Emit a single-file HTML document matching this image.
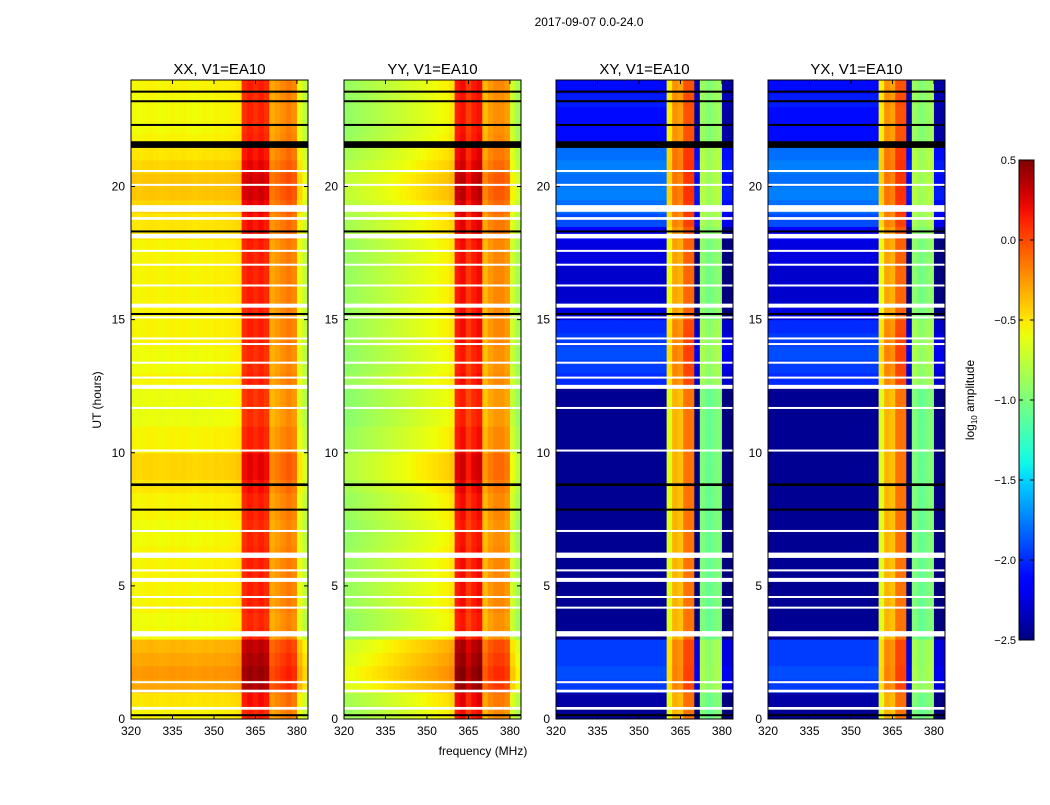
<!DOCTYPE html>
<html><head><meta charset="utf-8">
<style>
body{margin:0;background:#fff;width:1050px;height:800px;overflow:hidden}
svg text{font-family:"Liberation Sans",sans-serif}
</style></head><body>
<svg id="fig" width="1050" height="800" xmlns="http://www.w3.org/2000/svg">
<text x="589" y="26" font-size="12" text-anchor="middle">2017-09-07 0.0-24.0</text>
<text x="483" y="755" font-size="12" text-anchor="middle">frequency (MHz)</text>
<text x="101" y="400" font-size="12" text-anchor="middle" transform="rotate(-90 101 400)">UT (hours)</text>
</svg>
<script>
// ---- data ----
const panelTitles = ["XX, V1=EA10","YY, V1=EA10","XY, V1=EA10","YX, V1=EA10"];
const freqBins = [320,322,324,326,328,330,332,334,336,338,340,342,344,346,348,350,352,354,356,358,360,362,364,366,368,370,372,374,376,378,380,382];
const xxProfile = [-0.55,-0.56,-0.55,-0.54,-0.55,-0.56,-0.55,-0.54,-0.55,-0.54,-0.55,-0.56,-0.55,-0.54,-0.55,-0.53,-0.54,-0.53,-0.52,-0.5,0.1,0.15,0.1,0.15,0.1,-0.3,-0.25,-0.2,-0.15,-0.2,-0.6,-0.75];
const yyProfile = [-0.9,-0.88,-0.86,-0.84,-0.82,-0.8,-0.78,-0.76,-0.74,-0.72,-0.7,-0.68,-0.66,-0.64,-0.62,-0.6,-0.58,-0.56,-0.54,-0.5,0.15,0.2,0.05,0.15,0.2,-0.35,-0.25,-0.2,-0.2,-0.25,-0.7,-0.85];
const xyProfile = [-2.0,-2.0,-2.0,-2.0,-2.0,-2.0,-2.0,-2.0,-2.0,-2.0,-2.0,-2.0,-2.0,-2.0,-2.0,-2.0,-2.0,-2.0,-2.0,-2.0,-0.5,-0.2,-0.25,0.0,0.0,-2.3,-0.85,-0.95,-0.9,-0.85,-2.3,-2.3];
const yxProfile = [-2.0,-2.0,-2.0,-2.0,-2.0,-2.0,-2.0,-2.0,-2.0,-2.0,-2.0,-2.0,-2.0,-2.0,-2.0,-2.0,-2.0,-2.0,-2.0,-2.0,-0.5,-0.2,-0.25,0.0,0.0,-2.3,-0.85,-0.95,-0.9,-0.85,-2.3,-2.3];
const bandWeight = [1,1,1,1,1,1,1,1,1,1,1,1,1,1,1,1,1,1,1,1,0.3,0.3,0.3,0.3,0.3,1,0.3,0.3,0.3,0.3,1,1];
const timeBins = [0,0.5,1,1.5,2,2.5,3,3.5,4,4.5,5,5.5,6,6.5,7,7.5,8,8.5,9,9.5,10,10.5,11,11.5,12,12.5,13,13.5,14,14.5,15,15.5,16,16.5,17,17.5,18,18.5,19,19.5,20,20.5,21,21.5,22,22.5,23,23.5];
const coOffset = [0,0.05,0.25,0.3,0.25,0.2,-0.02,-0.03,0,0,0,0,0,-0.02,-0.03,0,0,0.05,0.1,0.1,0,0,-0.05,-0.05,-0.05,0,-0.03,-0.03,0,0,0,0,0,0,0,0,0.05,0.05,0.1,0.15,0.15,0.1,0.05,0,-0.02,-0.02,-0.02,0];
const crossOffset = [-0.45,-0.4,0.05,0.1,0.05,0.05,-0.45,-0.45,-0.45,-0.45,-0.45,-0.45,-0.45,-0.45,-0.45,-0.45,-0.45,-0.45,-0.45,-0.45,-0.45,-0.45,-0.45,-0.45,-0.45,0.0,0.05,0.1,0.05,0.0,-0.25,-0.3,-0.3,-0.3,-0.25,-0.25,-0.15,0.1,0.2,0.25,0.2,0.25,0.2,-0.1,-0.1,-0.1,-0.05,-0.1];
const whiteGaps = [[0.35,0.45],[1.0,1.1],[1.35,1.42],[3.1,3.3],[4.15,4.22],[4.55,4.62],[5.15,5.3],[5.55,5.62],[6.05,6.25],[7.05,7.1],[10.05,10.12],[11.65,11.72],[12.4,12.55],[12.8,12.86],[13.35,13.42],[14.05,14.12],[14.28,14.33],[15.05,15.12],[15.45,15.6],[16.25,16.32],[17.05,17.1],[17.55,17.62],[18.05,18.22],[18.75,18.85],[19.05,19.3],[20.05,20.1],[20.55,20.62]];
const blackGaps = [[0.12,0.18],[8.75,8.85],[7.85,7.9],[15.2,15.25],[18.3,18.35],[21.45,21.7],[22.3,22.35],[23.55,23.6],[23.2,23.24]];
const xTicks = [320,335,350,365,380];
const yTicks = [0,5,10,15,20];
const cbTicks = [-2.5,-2.0,-1.5,-1.0,-0.5,0.0,0.5];
// ---- layout ----
const NS="http://www.w3.org/2000/svg";
const svg=document.getElementById('fig');
const panelX=[131,344,556,768], pW=177, pTop=80, pBot=719;
const fMin=320,fMax=384,tMin=0,tMax=24,vMin=-2.5,vMax=0.5;
function mk(tag,attrs,parent){const e=document.createElementNS(NS,tag);for(const k in attrs)e.setAttribute(k,attrs[k]);(parent||svg).appendChild(e);return e;}
function jet(v){let t=(v-vMin)/(vMax-vMin);t=Math.max(0,Math.min(1,t));
 const r=Math.max(0,Math.min(1,t<0.35?0:t<0.66?(t-0.35)/0.31:t<0.89?1:1-(t-0.89)/0.11*0.5));
 const g=Math.max(0,Math.min(1,t<0.125?0:t<0.375?(t-0.125)/0.25:t<0.64?1:t<0.91?1-(t-0.64)/0.27:0));
 const b=Math.max(0,Math.min(1,t<0.11?0.5+t/0.11*0.5:t<0.34?1:t<0.65?1-(t-0.34)/0.31:0));
 return `rgb(${Math.round(r*255)},${Math.round(g*255)},${Math.round(b*255)})`;}
const profiles=[xxProfile,yyProfile,xyProfile,yxProfile];
const offsets=[coOffset,coOffset,crossOffset,crossOffset];
profiles.forEach((prof,p)=>{
 const x0=panelX[p];
 const xs=f=>x0+(f-fMin)/(fMax-fMin)*pW;
 const ys=t=>pBot-(t-tMin)/(tMax-tMin)*(pBot-pTop);
 const g=mk('g',{});
 
 
 timeBins.forEach((t,i)=>{
  const t1=i+1<timeBins.length?timeBins[i+1]:tMax;
  freqBins.forEach((f,j)=>{
   const f1=j+1<freqBins.length?freqBins[j+1]:fMax;
   const v=prof[j]+offsets[p][i]*(p<2?1:bandWeight[j]);
   const r=mk('rect',{x:xs(f),y:ys(t1),width:xs(f1)-xs(f)+0.5,height:ys(t)-ys(t1)+0.5,fill:jet(v)},g);
   
   
  });
 });
 whiteGaps.forEach(gp=>{const r=mk('rect',{x:x0,y:ys(gp[1]),width:pW,height:Math.max(2,ys(gp[0])-ys(gp[1])),fill:'#fff'},g);
  });
 blackGaps.forEach(gp=>{const r=mk('rect',{x:x0,y:ys(gp[1]),width:pW,height:Math.max(2,ys(gp[0])-ys(gp[1])),fill:'#000'},g);
  });
 const fr=mk('rect',{x:x0,y:pTop,width:pW,height:pBot-pTop,fill:'none',stroke:'#000','stroke-width':1});
 
 const tt=mk('text',{x:x0+pW/2,y:74,'font-size':15,'text-anchor':'middle'});tt.textContent=panelTitles[p];
 
 xTicks.forEach(v=>{const x=xs(v);mk('line',{x1:x,x2:x,y1:pBot,y2:pBot-4,stroke:'#000'});mk('line',{x1:x,x2:x,y1:pTop,y2:pTop+4,stroke:'#000'});
  const l=mk('text',{x:x,y:pBot+16,'font-size':12,'text-anchor':'middle'});l.textContent=v;
  });
 yTicks.forEach(v=>{const y=ys(v);mk('line',{x1:x0,x2:x0+4,y1:y,y2:y,stroke:'#000'});mk('line',{x1:x0+pW,x2:x0+pW-4,y1:y,y2:y,stroke:'#000'});
  const l=mk('text',{x:x0-6,y:y+4,'font-size':12,'text-anchor':'end'});l.textContent=v;
  });
});
// colorbar
const cbX=1019,cbW=15,cbTop=160,cbBot=640;
const defs=mk('defs',{});const lg=mk('linearGradient',{id:'jetg',x1:0,y1:1,x2:0,y2:0},defs);
for(let k=0;k<=30;k++){const v=vMin+(vMax-vMin)*k/30;mk('stop',{offset:k/30,'stop-color':jet(v)},lg);}
const cb=mk('rect',{x:cbX,y:cbTop,width:cbW,height:cbBot-cbTop,fill:'url(#jetg)',stroke:'#000'});

const cys=v=>cbBot-(v-vMin)/(vMax-vMin)*(cbBot-cbTop);
cbTicks.forEach(v=>{const y=cys(v);mk('line',{x1:cbX,x2:cbX+4,y1:y,y2:y,stroke:'#000'});mk('line',{x1:cbX+cbW,x2:cbX+cbW-4,y1:y,y2:y,stroke:'#000'});
 const l=mk('text',{x:cbX-3,y:y+4,'font-size':11,'text-anchor':'end'});l.textContent=(v<0?'\u2212':'')+Math.abs(v).toFixed(1);
 });
const cl=mk('text',{x:974,y:400,'font-size':12,'text-anchor':'middle',transform:'rotate(-90 974 400)'});
cl.innerHTML='log<tspan font-size="8" dy="3">10</tspan><tspan dy="-3"> amplitude</tspan>';

</script>
</body></html>
